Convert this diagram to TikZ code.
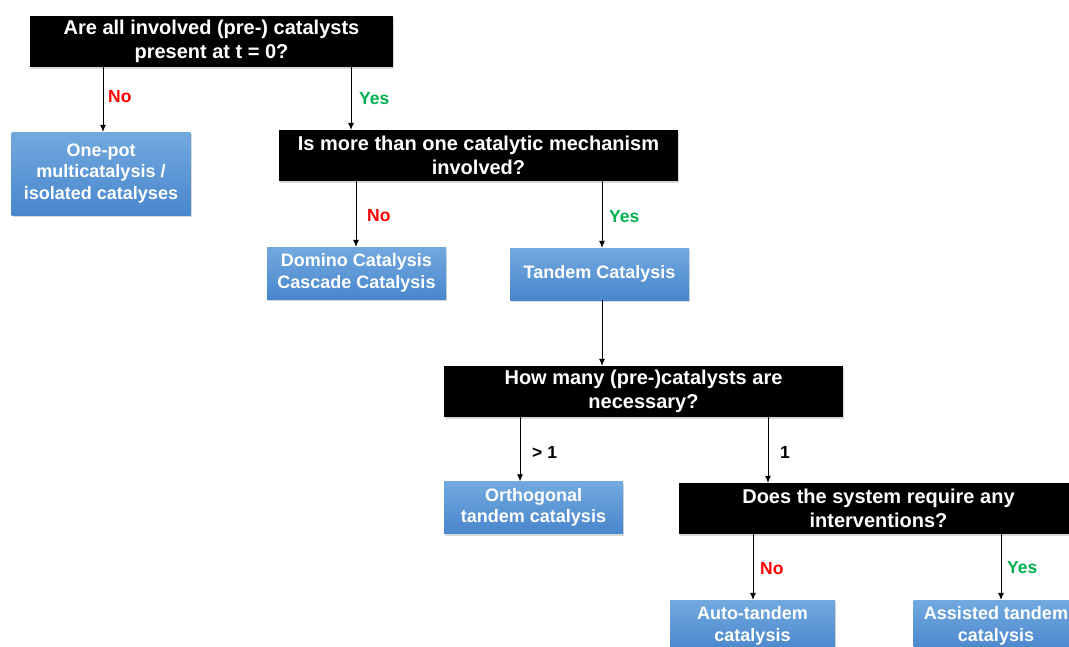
\documentclass[tikz,border=0pt]{standalone}
\usepackage{fontspec}
\setmainfont{Liberation Sans}
\usetikzlibrary{arrows.meta,shadows}
\definecolor{boxtop}{HTML}{72A9DF}
\definecolor{boxbot}{HTML}{4986CC}
\definecolor{noRed}{HTML}{FF0000}
\definecolor{yesGreen}{HTML}{00B050}
\tikzset{
  question/.style={fill=black, text=white, font=\bfseries\fontsize{20}{23.5}\selectfont,
    align=center, minimum width=399pt, minimum height=51pt, inner sep=0pt,
    drop shadow={opacity=0.3, shadow xshift=1pt, shadow yshift=-2pt}},
  outcome/.style={top color=boxtop, bottom color=boxbot, draw=none, text=white,
    font=\bfseries\fontsize{18}{21.5}\selectfont, align=center,
    minimum width=179pt, minimum height=52pt, inner sep=0pt,
    drop shadow={opacity=0.3, shadow xshift=1pt, shadow yshift=-2pt}},
  arr/.style={draw=black, line width=0.8pt, -{Latex[length=7pt,width=6pt]}},
  lab/.style={font=\bfseries\fontsize{17.5}{20}\selectfont, anchor=west, inner sep=0pt},
  nolab/.style={lab, text=noRed},
  yeslab/.style={lab, text=yesGreen},
}
\begin{document}
\begin{tikzpicture}[x=1pt,y=-1pt]
\clip (0,0) rectangle (1069,646);
\fill[white] (0,0) rectangle (1069,646);

\node[question, minimum width=363pt] (q1) at (211.5,41.5) {Are all involved (pre-) catalysts\\present at t = 0?};
\node[outcome, minimum height=83pt] (onepot) at (101,173.5) {One-pot\\multicatalysis /\\isolated catalyses};
\node[question] (q2) at (478.5,155.5) {Is more than one catalytic mechanism\\involved?};
\node[outcome] (domino) at (356.5,273) {Domino Catalysis\\Cascade Catalysis};
\node[outcome] (tandem) at (599.5,274) {Tandem Catalysis};
\node[question] (q3) at (643.5,391.5) {How many (pre-)catalysts are\\necessary?};
\node[outcome] (ortho) at (533.5,507.5) {Orthogonal\\tandem catalysis};
\node[question] (q4) at (878.5,508.5) {Does the system require any\\interventions?};
\node[outcome, minimum width=165pt] (auto) at (752.5,626) {Auto-tandem\\catalysis};
\node[outcome, minimum width=165pt] (assist) at (996,626) {Assisted tandem\\catalysis};

\coordinate (c1) at (103,0);
\coordinate (c2) at (351,0);
\coordinate (c3) at (356,0);
\coordinate (c4) at (602,0);
\coordinate (c5) at (520,0);
\coordinate (c6) at (768,0);
\coordinate (c7) at (753,0);
\coordinate (c8) at (1001,0);

\draw[arr] (q1.south -| c1) -- (onepot.north -| c1);
\draw[arr] (q1.south -| c2) -- (q2.north -| c2);
\draw[arr] (q2.south -| c3) -- (domino.north -| c3);
\draw[arr] (q2.south -| c4) -- (tandem.north -| c4);
\draw[arr] (tandem.south -| c4) -- (q3.north -| c4);
\draw[arr] (q3.south -| c5) -- (ortho.north -| c5);
\draw[arr] (q3.south -| c6) -- (q4.north -| c6);
\draw[arr] (q4.south -| c7) -- (auto.north -| c7);
\draw[arr] (q4.south -| c8) -- (assist.north -| c8);

\node[nolab] (l1) at (108,97) {No};
\node[yeslab] (l2) at (359,99) {Yes};
\node[nolab] (l3) at (367,216) {No};
\node[yeslab] (l4) at (609,217) {Yes};
\node[lab] (l5) at (532,452) {> 1};
\node[lab] (l6) at (780,452) {1};
\node[nolab] (l7) at (760,569) {No};
\node[yeslab] (l8) at (1007,568) {Yes};
\end{tikzpicture}
\end{document}
